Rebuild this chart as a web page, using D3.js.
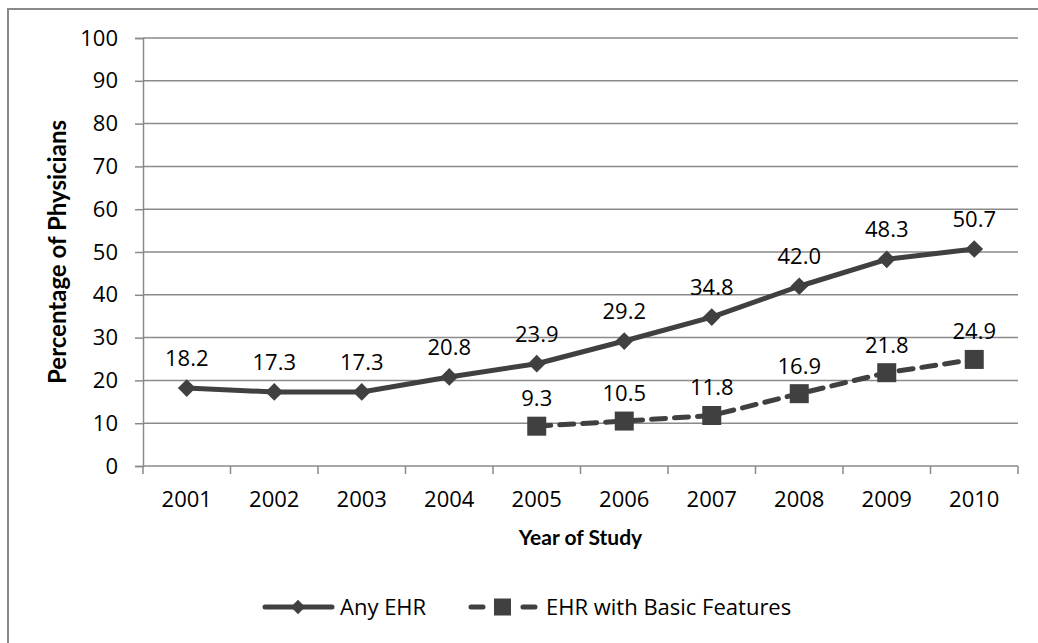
<!DOCTYPE html>
<html>
<head>
<meta charset="utf-8">
<script src="https://cdn.jsdelivr.net/npm/d3@7"></script>
<style>
  body { margin: 0; background: #fff; }
  text { font-family: "Open Sans", Lato, sans-serif; fill: #000; }
  .title { font-family: Lato, "Open Sans", sans-serif; font-weight: bold; }
</style>
</head>
<body>
<div id="chart"></div>
<script>
var years = ["2001", "2002", "2003", "2004", "2005", "2006", "2007", "2008", "2009", "2010"];
var anyEHR = [18.2, 17.3, 17.3, 20.8, 23.9, 29.2, 34.8, 42.0, 48.3, 50.7];
var basicEHR = [null, null, null, null, 9.3, 10.5, 11.8, 16.9, 21.8, 24.9];
var yTicks = [0, 10, 20, 30, 40, 50, 60, 70, 80, 90, 100];

var W = 1038, H = 643;
var margin = {top: 38, left: 143, right: 20, bottom: 177},
    width  = W - margin.left - margin.right,
    height = H - margin.top - margin.bottom;

var ink = "#404040", gridCol = "#8a8a8a", font = "'Open Sans', Lato, sans-serif";

var svg = d3.select("#chart").append("svg")
    .attr("width", W).attr("height", H);

// outer chart frame
svg.append("rect")
  .attr("x", 8).attr("y", 9)
  .attr("width", W + 20).attr("height", H + 20)
  .attr("fill", "none").attr("stroke", gridCol).attr("stroke-width", 2);

var g = svg.append("g").attr("transform", "translate(" + margin.left + "," + margin.top + ")");

var x = d3.scaleBand().domain(years).range([0, width]),
    y = d3.scaleLinear().domain([0, 100]).range([height, 0]);

function cx(i) { return x(years[i]) + x.bandwidth() / 2; }

// horizontal grid
g.selectAll(".horizontalGrid").data(yTicks.slice(1)).enter()
  .append("line")
  .attr("x1", 0).attr("x2", width)
  .attr("y1", function(d){ return y(d); })
  .attr("y2", function(d){ return y(d); })
  .attr("stroke", gridCol).attr("stroke-width", 1.5);

// y axis
var yAxis = g.append("g")
  .call(d3.axisLeft(y).tickValues(yTicks).tickSize(8).tickPadding(17));
yAxis.select(".domain").attr("stroke", gridCol).attr("stroke-width", 1.5);
yAxis.selectAll(".tick line").attr("stroke", gridCol).attr("stroke-width", 1.5);
yAxis.selectAll("text").attr("font-size", 22).attr("fill", "#000")
  .style("font-family", font);

// x axis: ticks on category boundaries
var xAxis = g.append("g").attr("transform", "translate(0," + height + ")");
xAxis.append("line").attr("x1", 0).attr("x2", width)
  .attr("stroke", gridCol).attr("stroke-width", 1.5);
xAxis.selectAll(".xtick").data(years.concat(["end"])).enter()
  .append("line")
  .attr("x1", function(d, i){ return i < years.length ? x(d) : width; })
  .attr("x2", function(d, i){ return i < years.length ? x(d) : width; })
  .attr("y1", 0).attr("y2", 8)
  .attr("stroke", gridCol).attr("stroke-width", 1.5);
xAxis.selectAll(".xlab").data(years).enter()
  .append("text")
  .attr("x", function(d, i){ return cx(i); })
  .attr("y", 41)
  .attr("text-anchor", "middle")
  .attr("font-size", 22)
  .text(function(d){ return d; });

// axis titles
svg.append("text").attr("class", "title")
  .attr("transform", "translate(66," + (margin.top + height / 2) + ") rotate(-90)")
  .attr("text-anchor", "middle")
  .attr("font-size", 24)
  .text("Percentage of Physicians");

svg.append("text").attr("class", "title")
  .attr("x", margin.left + width / 2).attr("y", 545)
  .attr("text-anchor", "middle")
  .attr("font-size", 21)
  .text("Year of Study");

var line = d3.line()
  .defined(function(d){ return d != null; })
  .x(function(d, i){ return cx(i); })
  .y(function(d){ return y(d); });

var diamond = d3.symbol().type(d3.symbolDiamond2).size(200);

// Any EHR
g.append("path").datum(anyEHR)
  .attr("fill", "none").attr("stroke", ink).attr("stroke-width", 5)
  .attr("stroke-linejoin", "round")
  .attr("d", line);

g.selectAll(".dia").data(anyEHR).enter()
  .append("path")
  .attr("transform", function(d, i){ return "translate(" + cx(i) + "," + y(d) + ")"; })
  .attr("d", diamond)
  .attr("fill", ink);

g.selectAll(".labA").data(anyEHR).enter()
  .append("text")
  .attr("x", function(d, i){ return cx(i); })
  .attr("y", function(d){ return y(d) - 22; })
  .attr("text-anchor", "middle").attr("font-size", 22)
  .text(function(d){ return d.toFixed(1); });

// EHR with Basic Features
g.append("path").datum(basicEHR)
  .attr("fill", "none").attr("stroke", ink).attr("stroke-width", 5)
  .attr("stroke-dasharray", "14 9").attr("stroke-linecap", "round")
  .attr("d", line);

var basicPts = basicEHR.map(function(d, i){ return {v: d, i: i}; })
  .filter(function(d){ return d.v != null; });

g.selectAll(".sq").data(basicPts).enter()
  .append("rect")
  .attr("x", function(d){ return cx(d.i) - 9.5; })
  .attr("y", function(d){ return y(d.v) - 9.5; })
  .attr("width", 19).attr("height", 19)
  .attr("fill", ink);

g.selectAll(".labB").data(basicPts).enter()
  .append("text")
  .attr("x", function(d){ return cx(d.i); })
  .attr("y", function(d){ return y(d.v) - 20; })
  .attr("text-anchor", "middle").attr("font-size", 22)
  .text(function(d){ return d.v.toFixed(1); });

// legend
var lg = svg.append("g").attr("transform", "translate(0,607)");
lg.append("line").attr("x1", 265).attr("x2", 332)
  .attr("stroke", ink).attr("stroke-width", 5).attr("stroke-linecap", "round");
lg.append("path").attr("transform", "translate(298,0)")
  .attr("d", d3.symbol().type(d3.symbolDiamond2).size(130)).attr("fill", ink);
lg.append("text").attr("x", 340).attr("y", 8).attr("font-size", 22).text("Any EHR");

lg.append("line").attr("x1", 471).attr("x2", 535)
  .attr("stroke", ink).attr("stroke-width", 5)
  .attr("stroke-dasharray", "12 40").attr("stroke-linecap", "round");
lg.append("rect").attr("x", 494).attr("y", -8.5).attr("width", 17).attr("height", 17)
  .attr("fill", ink);
lg.append("text").attr("x", 546).attr("y", 8).attr("font-size", 22).text("EHR with Basic Features");
</script>
</body>
</html>
